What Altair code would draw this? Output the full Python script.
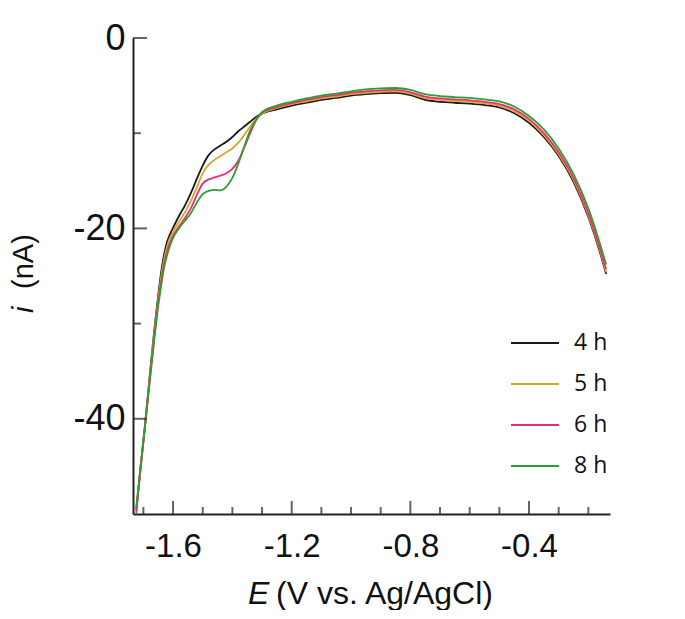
import altair as alt
import pandas as pd

# ---- data ----
E = [-1.724, -1.710, -1.695, -1.680, -1.665, -1.650, -1.640, -1.630, -1.620, -1.610,
     -1.600, -1.580, -1.560, -1.540, -1.520, -1.500, -1.480, -1.460, -1.440, -1.420,
     -1.400, -1.380, -1.360, -1.340, -1.320, -1.300, -1.250, -1.200, -1.150, -1.100,
     -1.050, -1.000, -0.950, -0.900, -0.850, -0.800, -0.750, -0.700, -0.650, -0.600,
     -0.550, -0.500, -0.450, -0.400, -0.350, -0.300, -0.250, -0.200, -0.160, -0.140]

I_4H = [-49.6, -45.2, -40.8, -35.9, -31.2, -27.0, -24.6, -22.7, -21.4, -20.6,
        -19.95, -18.7, -17.6, -16.3, -14.8, -13.4, -12.3, -11.7, -11.3, -10.9,
        -10.4, -9.8, -9.3, -8.8, -8.3, -7.95, -7.5, -7.1, -6.8, -6.5,
        -6.3, -6.05, -5.9, -5.8, -5.75, -6.0, -6.5, -6.7, -6.8, -6.9,
        -7.05, -7.3, -7.9, -8.9, -10.4, -12.4, -15.1, -18.8, -22.6, -24.8]

I_5H = [-49.6, -45.3, -40.9, -36.1, -31.5, -27.4, -25.1, -23.2, -21.9, -21.0,
        -20.4, -19.3, -18.3, -17.1, -15.7, -14.2, -13.3, -12.8, -12.4, -12.0,
        -11.6, -11.0, -10.2, -9.3, -8.5, -7.95, -7.35, -6.95, -6.65, -6.35,
        -6.15, -5.9, -5.75, -5.65, -5.6, -5.85, -6.3, -6.5, -6.6, -6.7,
        -6.85, -7.1, -7.7, -8.7, -10.2, -12.2, -14.9, -18.6, -22.4, -24.6]

I_6H = [-49.9, -45.5, -41.0, -36.4, -31.9, -27.8, -25.6, -23.7, -22.4, -21.5,
        -20.8, -19.8, -18.9, -17.9, -16.5, -15.3, -14.85, -14.65, -14.45, -14.2,
        -13.75, -12.9, -11.5, -10.0, -8.65, -7.85, -7.25, -6.85, -6.5, -6.2,
        -6.0, -5.75, -5.6, -5.5, -5.45, -5.7, -6.15, -6.35, -6.45, -6.55,
        -6.7, -6.95, -7.5, -8.5, -10.0, -12.0, -14.7, -18.4, -22.2, -24.3]

I_8H = [-49.3, -45.2, -40.9, -36.5, -32.2, -28.2, -26.0, -24.1, -22.8, -21.8,
        -21.0, -20.0, -19.2, -18.4, -17.3, -16.4, -16.05, -15.95, -16.0, -15.6,
        -14.7, -13.2, -11.4, -9.7, -8.6, -7.8, -7.1, -6.7, -6.35, -6.05,
        -5.85, -5.6, -5.4, -5.3, -5.25, -5.45, -5.9, -6.1, -6.2, -6.3,
        -6.45, -6.65, -7.2, -8.2, -9.6, -11.6, -14.3, -17.9, -21.7, -23.8]

SERIES = ["4 h", "5 h", "6 h", "8 h"]
COLORS = ["#1a1a1a", "#d9a62e", "#ec2d7a", "#2e9e34"]

X_MAJOR = [-1.6, -1.2, -0.8, -0.4]
X_MINOR = [-1.7, -1.5, -1.4, -1.3, -1.1, -1.0, -0.9, -0.7, -0.6, -0.5, -0.3, -0.2]
Y_MAJOR = [0, -20, -40]
Y_MINOR = [-10, -30]

X_DOMAIN = [-1.735, -0.127]
Y_DOMAIN = [-50, 0]

# ---- build tables ----
rows = []
for name, vals in zip(SERIES, [I_4H, I_5H, I_6H, I_8H]):
    for e, v in zip(E, vals):
        rows.append({"E": e, "i": v, "series": name})
df = pd.DataFrame(rows)

W, H = 477, 476
AX = "#222222"
FONT = "Liberation Sans"

xscale = alt.Scale(domain=X_DOMAIN, nice=False, zero=False)
yscale = alt.Scale(domain=Y_DOMAIN, nice=False, zero=False)

xaxis = alt.Axis(values=X_MAJOR, title=None, grid=False, ticks=False, tickSize=0,
                 domainColor=AX, domainWidth=2, labelFont=FONT, labelFontSize=33,
                 labelColor="#111111", labelPadding=16, labelFlush=False,
                 labelOverlap=False,
                 labelExpr="'-' + format(abs(datum.value), '.1f')")
yaxis = alt.Axis(values=Y_MAJOR, title=None, grid=False, ticks=False, tickSize=0,
                 domainColor=AX, domainWidth=2, labelFont=FONT, labelFontSize=36,
                 labelColor="#111111", labelPadding=8, labelFlush=False,
                 labelOverlap=False,
                 labelExpr="datum.value == 0 ? '0' : '-' + format(abs(datum.value), 'd')")

lines = alt.Chart(df).mark_line(interpolate="monotone", strokeWidth=1.8).encode(
    x=alt.X("E:Q", scale=xscale, axis=xaxis),
    y=alt.Y("i:Q", scale=yscale, axis=yaxis),
    color=alt.Color("series:N",
                    scale=alt.Scale(domain=SERIES, range=COLORS),
                    legend=alt.Legend(orient="none", legendX=377, legendY=280,
                                      title=None, symbolType="stroke",
                                      symbolSize=2304, symbolStrokeWidth=2,
                                      labelFont="Open Sans", labelFontSize=23,
                                      labelColor="#111111", labelOffset=14,
                                      rowPadding=4)),
)

xt_major = alt.Chart(pd.DataFrame({"E": X_MAJOR})).mark_tick(
    color=AX, thickness=2, size=13, orient="vertical").encode(
    x=alt.X("E:Q", scale=xscale, axis=xaxis), y=alt.value(H - 6.5))
xt_minor = alt.Chart(pd.DataFrame({"E": X_MINOR})).mark_tick(
    color=AX, thickness=2, size=7, orient="vertical").encode(
    x=alt.X("E:Q", scale=xscale, axis=xaxis), y=alt.value(H - 3.5))
yt_major = alt.Chart(pd.DataFrame({"i": Y_MAJOR})).mark_tick(
    color=AX, thickness=2, size=14, orient="horizontal").encode(
    y=alt.Y("i:Q", scale=yscale, axis=yaxis), x=alt.value(7))
yt_minor = alt.Chart(pd.DataFrame({"i": Y_MINOR})).mark_tick(
    color=AX, thickness=2, size=8, orient="horizontal").encode(
    y=alt.Y("i:Q", scale=yscale, axis=yaxis), x=alt.value(4))

def label(txt, x, y, size, italic=False, angle=0):
    kw = dict(align="left", baseline="alphabetic", font=FONT, fontSize=size,
              color="#111111")
    if italic:
        kw["fontStyle"] = "italic"
    if angle:
        kw["angle"] = angle
    return alt.Chart(pd.DataFrame({"t": [txt]})).mark_text(**kw).encode(
        text="t:N", x=alt.value(x), y=alt.value(y))

t_E = label("E", 115, 566, 32, italic=True)
t_E2 = label("(V vs. Ag/AgCl)", 143, 566, 32)
t_i = label("i", -100, 275, 29, italic=True, angle=270)
t_i2 = label("(nA)", -100, 251, 29, angle=270)

chart = alt.layer(lines, xt_major, xt_minor, yt_major, yt_minor, t_E, t_E2, t_i, t_i2).properties(
    width=W, height=H,
    padding={"left": 125, "top": 30, "right": 65, "bottom": 96},
    autosize=alt.AutoSizeParams(type="none"),
    background="white",
).configure_view(stroke=None)

chart.save("out.html", embed_options={"renderer": "svg", "actions": False})
